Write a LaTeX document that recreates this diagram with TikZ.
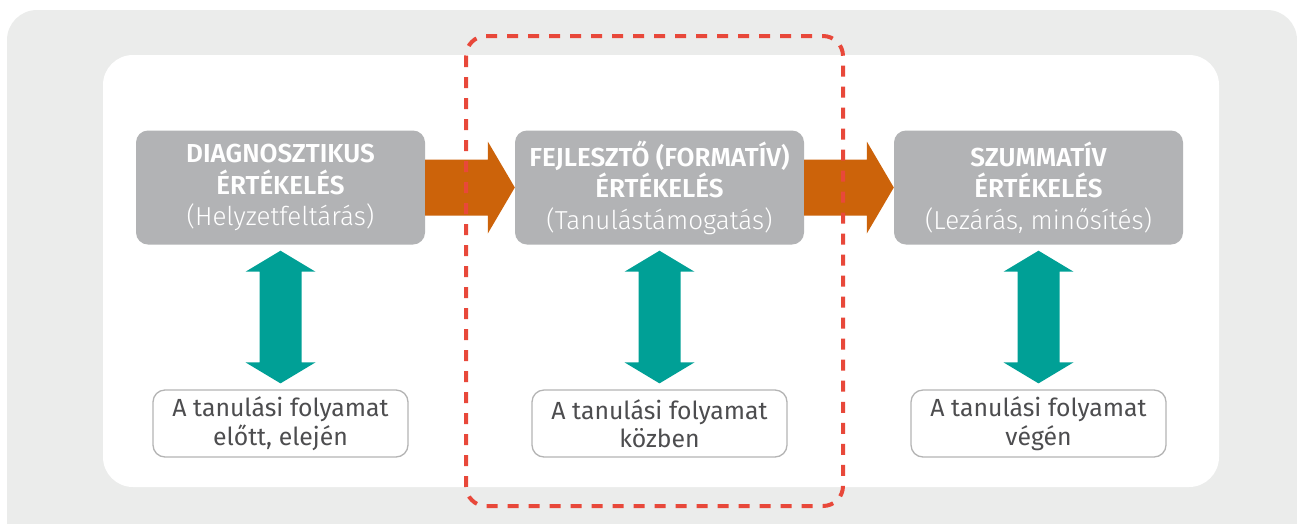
\documentclass[tikz,border=0pt]{standalone}
\usepackage{fontspec}
\setmainfont{Fira Sans}
\newfontfamily\lightf{Fira Sans Light}
\newfontfamily\semif{Fira Sans SemiBold}
\usetikzlibrary{calc}
\definecolor{bgc}{HTML}{EBECEB}
\definecolor{boxc}{HTML}{B2B3B5}
\definecolor{orangec}{HTML}{CC630A}
\definecolor{tealc}{HTML}{00A096}
\definecolor{redc}{HTML}{E8483A}
\definecolor{labc}{HTML}{B4B4B4}
\definecolor{txtc}{HTML}{4D4D4F}
\tikzset{
  phase/.style={fill=boxc, rounded corners=12pt, minimum width=289pt, minimum height=114pt,
    text=white, align=center, inner sep=0pt, font=\fontsize{26}{31.5}\selectfont},
  when/.style={draw=labc, line width=1.3pt, fill=white, rounded corners=12pt, minimum width=255pt,
    minimum height=67pt, text=txtc, align=center, inner sep=0pt, font=\fontsize{24.8}{28.5}\selectfont},
  flow/.style={fill=orangec},
  link/.style={fill=tealc},
  focus/.style={draw=redc, line width=4pt, dash pattern=on 11pt off 10pt, rounded corners=20pt}
}
\begin{document}
\begin{tikzpicture}[x=1pt,y=-1pt]
\useasboundingbox (0,0) rectangle (1297,523);
\clip (0,0) rectangle (1297,523);
\fill[bgc, rounded corners=30pt] (7,10) rectangle (1297,570);
\fill[white, rounded corners=30pt] (103,55) rectangle (1219,487);

\node[phase] (b1) at (280.5,187.5) {{\semif DIAGNOSZTIKUS}\\{\semif ÉRTÉKELÉS}\\{\lightf (Helyzetfeltárás)}};
\node[phase] (b2) at (659.5,187.5) {{\semif FEJLESZTŐ (FORMATÍV)}\\{\semif ÉRTÉKELÉS}\\{\lightf (Tanulástámogatás)}};
\node[phase] (b3) at (1038.5,187.5) {{\semif SZUMMATÍV}\\{\semif ÉRTÉKELÉS}\\{\lightf (Lezárás, minősítés)}};

\node[when] (l1) at (280.5,423.5) {A tanulási folyamat\\előtt, elején};
\node[when] (l2) at (659.5,423.5) {A tanulási folyamat\\közben};
\node[when] (l3) at (1038.5,423.5) {A tanulási folyamat\\végén};

\foreach \a/\b in {b1/b2, b2/b3}{
  \fill[flow] ($(\a.east)+(0,-28)$) -- ($(\b.west)+(-27,-28)$) -- ($(\b.west)+(-27,-46)$) -- (\b.west)
    -- ($(\b.west)+(-27,46)$) -- ($(\b.west)+(-27,28)$) -- ($(\a.east)+(0,28)$) -- cycle;
}
\foreach \a/\b in {b1/l1, b2/l2, b3/l3}{
  \fill[link] ($(\a.south)+(0,6)$) -- ($(\a.south)+(35,27)$) -- ($(\a.south)+(21,27)$)
    -- ($(\b.north)+(21,-27)$) -- ($(\b.north)+(35,-27)$) -- ($(\b.north)+(0,-6)$)
    -- ($(\b.north)+(-35,-27)$) -- ($(\b.north)+(-21,-27)$) -- ($(\a.south)+(-21,27)$)
    -- ($(\a.south)+(-35,27)$) -- cycle;
}
\draw[focus] (466,36) rectangle (843,506);
\end{tikzpicture}
\end{document}
